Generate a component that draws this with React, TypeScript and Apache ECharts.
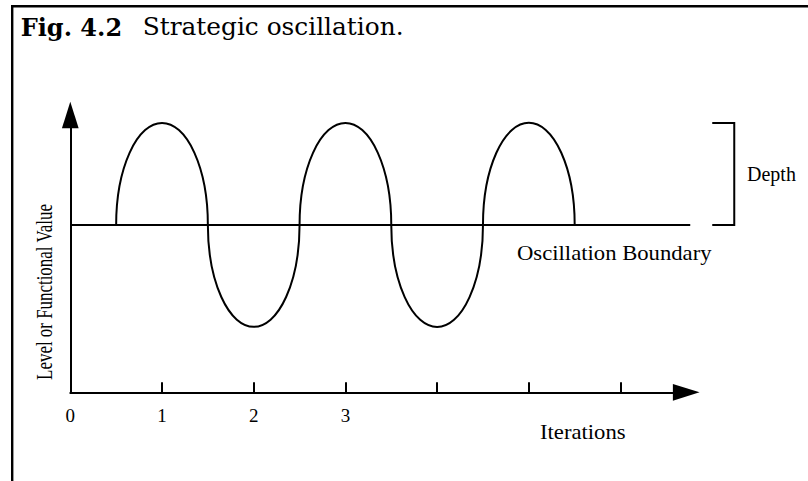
import React, { useEffect, useRef } from "react";
import * as echarts from "echarts";

// Iteration ticks along the horizontal axis, and the ones that carry numbers
const xTickValues = [1, 2, 3, 4, 5, 6];
const xLabelValues = [0, 1, 2, 3];

// Each half-wave: where it leaves the boundary, where it returns, and its extreme level
const lobeStarts = [0.5, 1.5, 2.5, 3.5, 4.5];
const lobeEnds = [1.5, 2.5, 3.5, 4.5, 5.5];
const lobeExtremes = [1, -1, 1, -1, 1];

// Oscillation boundary (level 0) and its horizontal reach
const boundaryLevel = 0;
const boundaryX = [0, 6.76];

// "Depth" bracket: spans from the boundary up to the peak level
const depthX = [7, 7.24];
const depthLevels = [1, 0];

// Axis extents
const xExtent = [0, 6.716];
const yExtent = [-1.64, 1.078];

const BLACK = "#000";
const SERIF = "Liberation Serif, Times New Roman, serif";
const CAPTION = "DejaVu Serif, serif";

// A plain black polyline through data points, placed with the grid's scales
function polylineSeries(name: string, points: number[][]) {
  return {
    type: "custom",
    name,
    data: points,
    clip: false,
    silent: true,
    renderItem: (params: any, api: any) => {
      if (params.dataIndex !== 0) return null;
      return {
        type: "polyline",
        shape: { points: points.map((p) => api.coord(p)) },
        style: { stroke: BLACK, fill: null, lineWidth: 2 },
      };
    },
  };
}

function label(text: string, x: number, y: number, font: string, extra: any = {}) {
  return {
    type: "text",
    x,
    y,
    ...extra,
    style: {
      text,
      font,
      fill: BLACK,
      align: extra.align || "left",
      verticalAlign: "middle",
    },
  };
}

export default function App() {
  const ref = useRef<HTMLDivElement>(null);

  useEffect(() => {
    if (!ref.current) return;
    const chart = echarts.init(ref.current, null, { renderer: "svg" });

    const lobeData = lobeStarts.map((s, i) => [s, lobeEnds[i], lobeExtremes[i]]);
    const axisLineStyle = { color: BLACK, width: 2 };

    const option: any = {
      animation: false,
      backgroundColor: "#fff",
      grid: {
        left: 70.3,
        right: 121.8,
        top: 115,
        bottom: 88.7,
        containLabel: false,
        outerBoundsMode: "none",
      },
      xAxis: {
        type: "value",
        min: xExtent[0],
        max: xExtent[1],
        axisLine: {
          show: true,
          onZero: false,
          symbol: ["none", "triangle"],
          symbolSize: [16.7, 26.7],
          lineStyle: axisLineStyle,
        },
        axisTick: {
          show: true,
          inside: true,
          length: 10,
          customValues: xTickValues,
          lineStyle: axisLineStyle,
        },
        axisLabel: {
          show: true,
          customValues: xLabelValues,
          margin: 14,
          color: BLACK,
          fontFamily: SERIF,
          fontSize: 19,
        },
        splitLine: { show: false },
      },
      yAxis: {
        type: "value",
        min: yExtent[0],
        max: yExtent[1],
        axisLine: {
          show: true,
          onZero: false,
          symbol: ["none", "triangle"],
          symbolSize: [16.7, 26.7],
          lineStyle: axisLineStyle,
        },
        axisTick: { show: false },
        axisLabel: { show: false },
        splitLine: { show: false },
      },
      series: [
        polylineSeries(
          "boundary",
          boundaryX.map((x) => [x, boundaryLevel])
        ),
        polylineSeries("depth", [
          [depthX[0], depthLevels[0]],
          [depthX[1], depthLevels[0]],
          [depthX[1], depthLevels[1]],
          [depthX[0], depthLevels[1]],
        ]),
        {
          type: "custom",
          name: "oscillation",
          data: lobeData,
          clip: false,
          silent: true,
          renderItem: (params: any, api: any) => {
            const start = api.value(0);
            const end = api.value(1);
            const extreme = api.value(2);
            const p0 = api.coord([start, boundaryLevel]);
            const p1 = api.coord([end, boundaryLevel]);
            const pe = api.coord([(start + end) / 2, extreme]);
            const rx = (p1[0] - p0[0]) / 2;
            const ry = Math.abs(pe[1] - p0[1]);
            const sweep = extreme > boundaryLevel ? 1 : 0;
            const d = `M${p0[0]} ${p0[1]} A${rx} ${ry} 0 0 ${sweep} ${p1[0]} ${p1[1]}`;
            return {
              type: "path",
              shape: { pathData: d },
              style: { stroke: BLACK, fill: "none", lineWidth: 2 },
            };
          },
        },
      ],
      graphic: [
        {
          type: "polyline",
          shape: { points: [[12.2, 481], [12.2, 6.2], [808, 6.2]] },
          style: { stroke: BLACK, lineWidth: 2.4, fill: null },
        },
        label("Fig. 4.2", 20.7, 27, `bold 24px ${CAPTION}`),
        label("Strategic oscillation.", 142.7, 27, `24px ${CAPTION}`, { scaleX: 1.035 }),
        label("Level or Functional Value", 43.5, 292, `24px ${SERIF}`, {
          rotation: Math.PI / 2,
          scaleX: 0.705,
          align: "center",
        }),
        label("Oscillation Boundary", 517, 253, `21px ${SERIF}`, { scaleX: 1.08 }),
        label("Depth", 747, 174, `20px ${SERIF}`),
        label("Iterations", 540, 432.5, `21px ${SERIF}`, { scaleX: 1.08 }),
      ],
    };

    chart.setOption(option);
    return () => chart.dispose();
  }, []);

  return (
    <div
      ref={ref}
      style={{ position: "fixed", left: 0, top: 0, width: 808, height: 481, background: "#fff" }}
    />
  );
}
